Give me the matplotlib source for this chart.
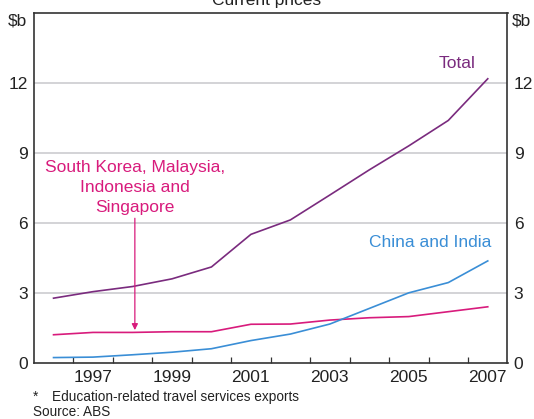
import matplotlib
matplotlib.use("Agg")
import matplotlib.pyplot as plt
import numpy as np

plt.rcParams['font.family'] = ['Liberation Sans', 'DejaVu Sans']

years = [1996, 1997, 1998, 1999, 2000, 2001, 2002, 2003, 2004, 2005, 2006, 2007]
total = [2.77, 3.05, 3.27, 3.60, 4.11, 5.51, 6.13, 7.20, 8.28, 9.31, 10.40, 12.19]
sk_my_id_sg = [1.20, 1.30, 1.30, 1.33, 1.33, 1.65, 1.66, 1.83, 1.93, 1.98, 2.19, 2.40]
china_india = [0.22, 0.24, 0.34, 0.45, 0.60, 0.95, 1.23, 1.66, 2.33, 3.00, 3.44, 4.37]
xtick_labels = ['1997', '1999', '2001', '2003', '2005', '2007']
yticks = [0, 3, 6, 9, 12]

c_total = '#7A2B7E'
c_pink = '#D81B7C'
c_blue = '#3A8ED6'
c_spine = '#333333'

W, H = 534, 419
fig = plt.figure(figsize=(W/100, H/100), dpi=100)
ax = fig.add_axes([33.8/W, 1-362.7/H, (507.5-33.8)/W, (362.7-13.3)/H])

ax.set_xlim(1995.5, 2007.5)
ax.set_ylim(0, 15)

for y in yticks[1:]:
    ax.axhline(y, color='#C8C8CC', lw=1.1, zorder=1)

ax.plot(years, total, color=c_total, lw=1.2, zorder=3)
ax.plot(years, sk_my_id_sg, color=c_pink, lw=1.2, zorder=3)
ax.plot(years, china_india, color=c_blue, lw=1.2, zorder=3)

for s in ax.spines.values():
    s.set_color(c_spine)
    s.set_linewidth(1.2)

fs = 12.5
ax.set_xticks([int(l) for l in xtick_labels])
ax.set_xticklabels(xtick_labels)
ax.tick_params(axis='x', which='major', length=0, labelsize=fs, pad=5, colors='#222222')
ax.set_xticks(np.arange(1996.5, 2007.0, 1.0), minor=True)
ax.tick_params(axis='x', which='minor', direction='in', length=4, width=0.9, color=c_spine)

ax.set_yticks(yticks)
ax.set_yticklabels([str(v) for v in yticks])
ax.tick_params(axis='y', which='both', length=0, labelsize=fs, pad=4.5,
               labelleft=True, labelright=True, left=False, right=False, colors='#222222')

ax.text(2006.23, 12.83, 'Total', color=c_total, fontsize=fs, ha='center', va='center')
ax.text(2005.54, 5.14, 'China and India', color=c_blue, fontsize=fs, ha='center', va='center')
ax.text(1998.06, 7.52, 'South Korea, Malaysia,\nIndonesia and\nSingapore', color=c_pink,
        fontsize=fs, ha='center', va='center', linespacing=1.38)
ax.annotate('', xy=(1998.06, 1.40), xytext=(1998.06, 6.2),
            arrowprops=dict(arrowstyle='-|>', color=c_pink, lw=0.9,
                            mutation_scale=9, shrinkA=0, shrinkB=0))

fig.text(27.5/W, 1-21/H, '$b', fontsize=fs, ha='right', va='center', color='#222222')
fig.text(512/W, 1-21/H, '$b', fontsize=fs, ha='left', va='center', color='#222222')
fig.text(0.5, 1-1/H, 'Current prices', fontsize=fs, ha='center', va='center', color='#222222')

fs2 = 9.8
fig.text(33/W, 1-397/H, '*', fontsize=fs2, ha='left', va='center', color='#222222')
fig.text(52/W, 1-397/H, 'Education-related travel services exports', fontsize=fs2,
         ha='left', va='center', color='#222222')
fig.text(33/W, 1-411.5/H, 'Source: ABS', fontsize=fs2, ha='left', va='center', color='#222222')

fig.savefig('out.png', dpi=100)
